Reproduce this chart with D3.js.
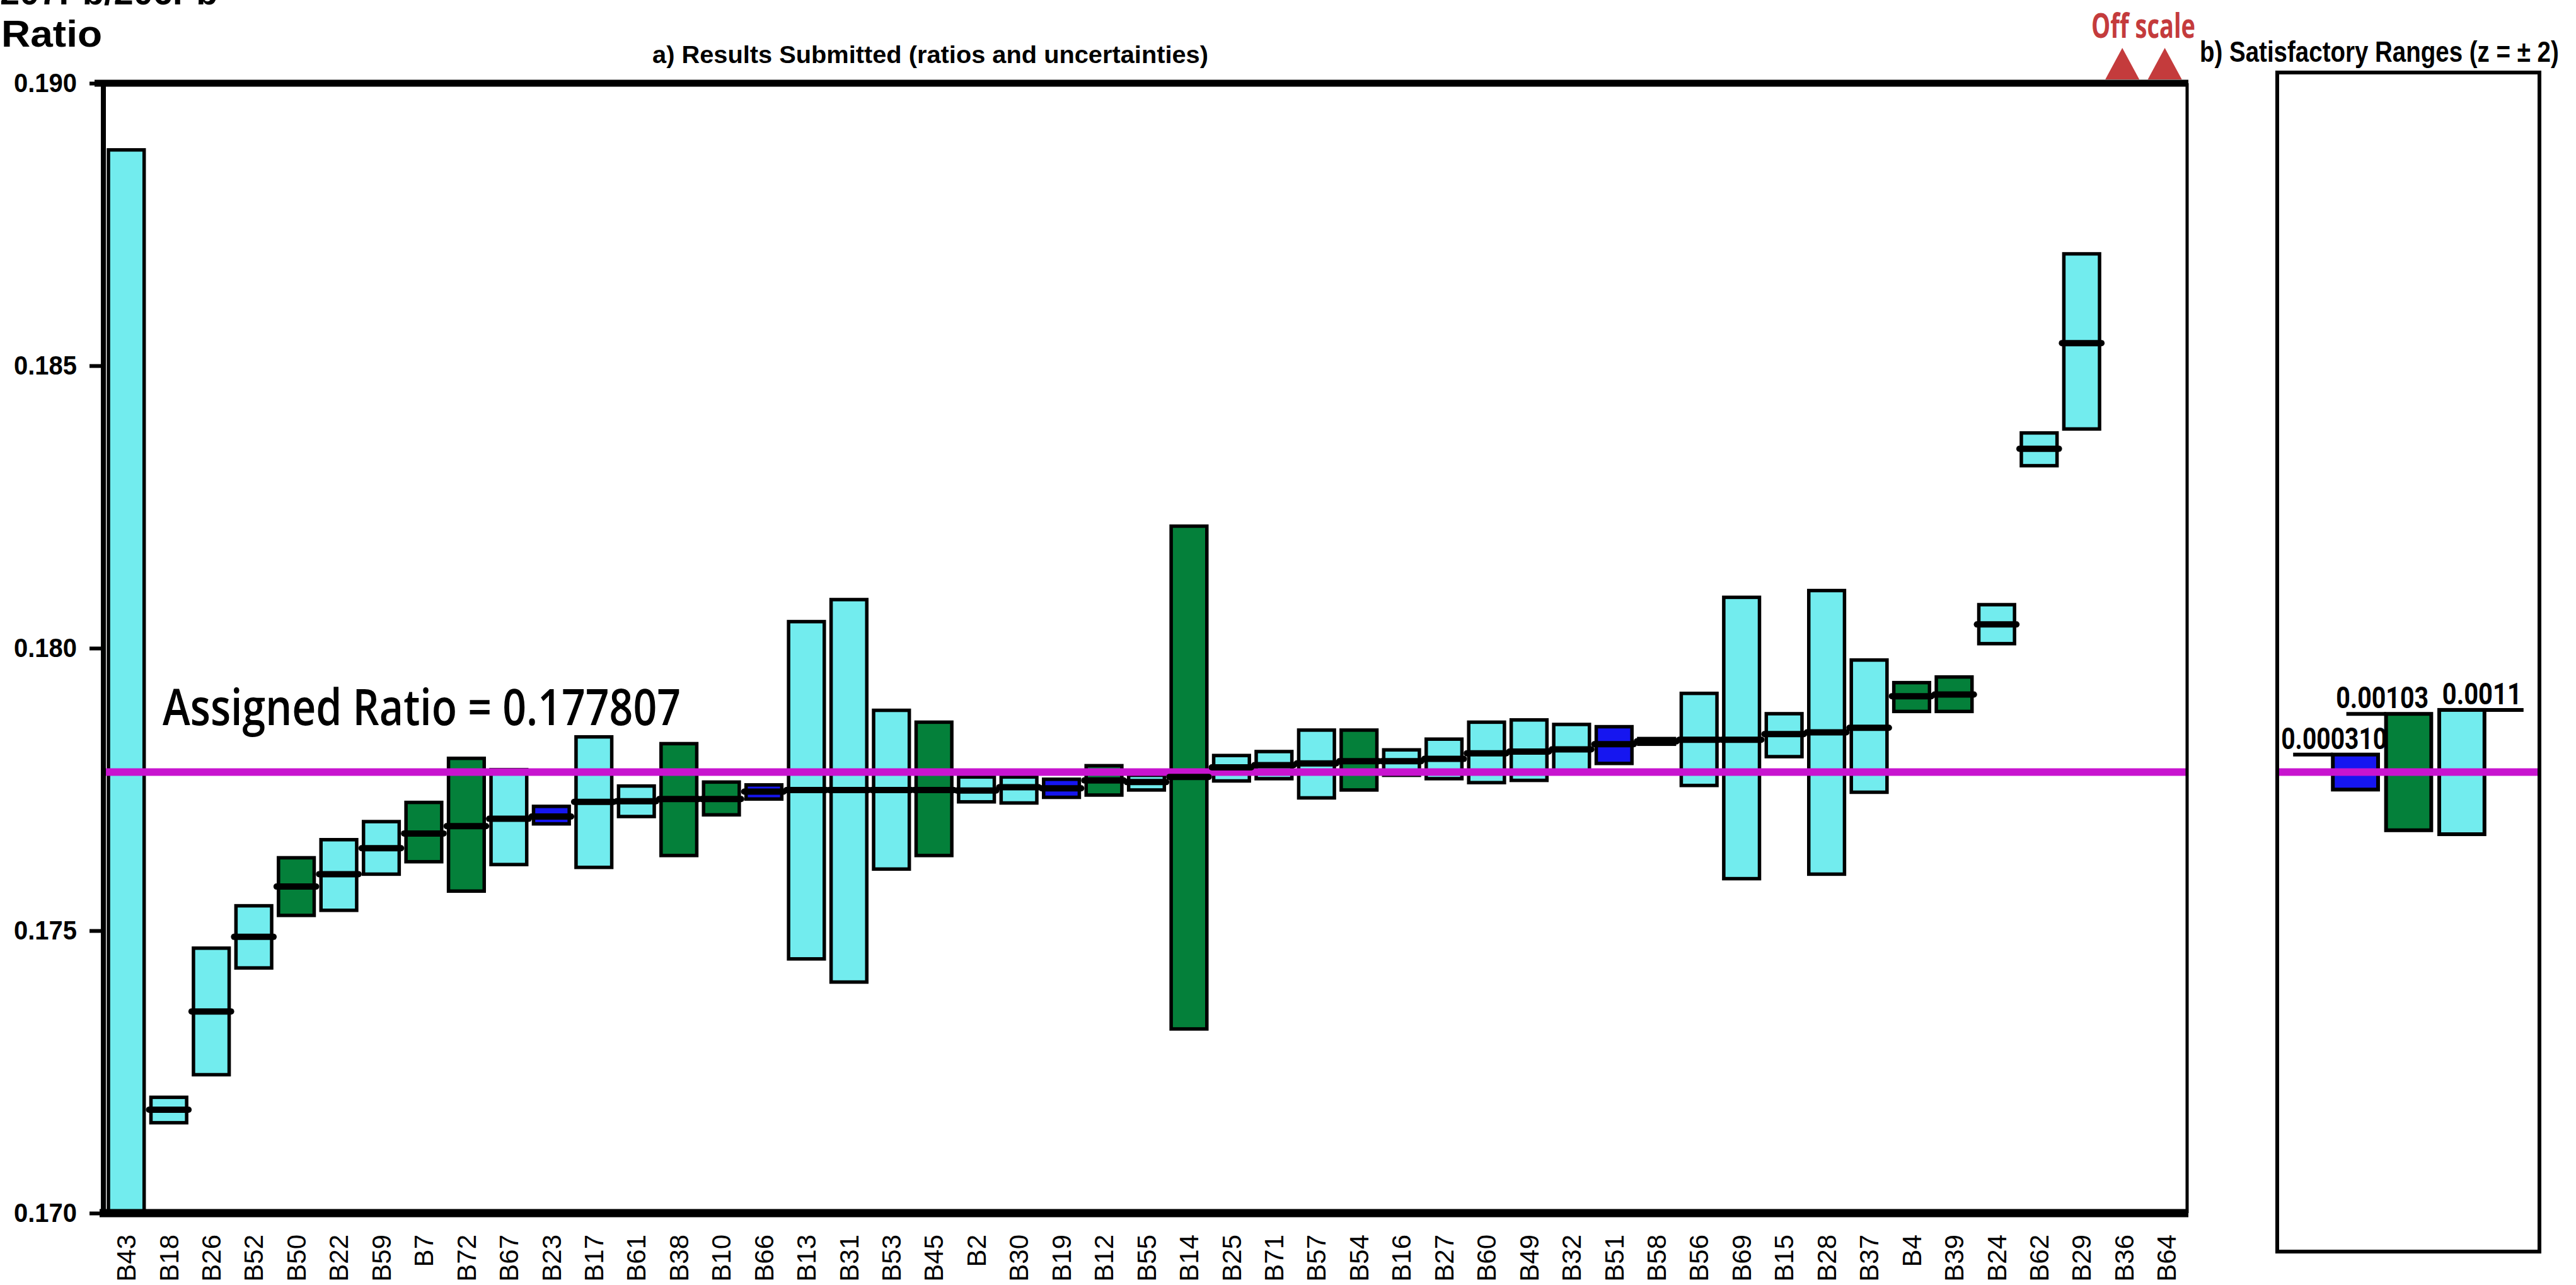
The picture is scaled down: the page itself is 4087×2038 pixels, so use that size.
<!DOCTYPE html>
<html><head><meta charset="utf-8">
<script src="https://cdn.jsdelivr.net/npm/d3@7"></script>
<style>html,body{margin:0;padding:0;background:#fff;} svg{display:block;}</style>
</head><body>
<svg id="chart" width="4087" height="2038"></svg>
<script>
// ---------- data ----------
const labs = ["B43","B18","B26","B52","B50","B22","B59","B7","B72","B67","B23","B17","B61","B38","B10","B66","B13","B31","B53","B45","B2","B30","B19","B12","B55","B14","B25","B71","B57","B54","B16","B27","B60","B49","B32","B51","B58","B56","B69","B15","B28","B37","B4","B39","B24","B62","B29","B36","B64"];
const groups = ["c","c","c","c","g","c","c","g","g","c","b","c","c","g","g","b","c","c","c","g","c","c","b","g","c","g","c","c","c","g","c","c","c","c","c","b","c","c","c","c","c","c","g","g","c","c","c","c","c"];
const centers = [0.1690,0.17183,0.17357,0.17489,0.17578,0.17600,0.17646,0.17672,0.17685,0.17698,0.17702,0.17728,0.17729,0.17733,0.17733,0.17746,0.17749,0.17749,0.17749,0.17749,0.17748,0.17754,0.17752,0.17766,0.17763,0.17772,0.17789,0.17793,0.17796,0.17800,0.17800,0.17804,0.17814,0.17817,0.17821,0.17830,0.17835,0.17838,0.17838,0.17848,0.17851,0.17859,0.17915,0.17918,0.18042,0.18353,0.18540,0.1925,0.1935];
const lows = [0.1492,0.17160,0.17245,0.17434,0.17527,0.17536,0.17600,0.17622,0.17570,0.17617,0.17689,0.17612,0.17702,0.17633,0.17705,0.17733,0.17450,0.17409,0.17609,0.17633,0.17728,0.17726,0.17736,0.17740,0.17749,0.17326,0.17765,0.17769,0.17735,0.17749,0.17775,0.17769,0.17762,0.17766,0.17781,0.17796,0.17830,0.17757,0.17592,0.17808,0.17600,0.17745,0.17888,0.17888,0.18008,0.18323,0.18388,0.1920,0.1930];
const highs = [0.18882,0.17205,0.17469,0.17544,0.17629,0.17661,0.17693,0.17727,0.17805,0.17785,0.17720,0.17843,0.17756,0.17831,0.17763,0.17758,0.18047,0.18086,0.17890,0.17869,0.17772,0.17772,0.17768,0.17792,0.17775,0.18216,0.17810,0.17817,0.17855,0.17855,0.17820,0.17839,0.17869,0.17873,0.17865,0.17861,0.17840,0.17920,0.18090,0.17884,0.18102,0.17979,0.17939,0.17949,0.18077,0.18381,0.18698,0.1930,0.1940];
const assigned = 0.177807;
const yTicks = [0.170,0.175,0.180,0.185,0.190];
const rangeNames = ["b","g","c"];
const rangeHalf = [0.000310,0.00103,0.0011];
const rangeLabels = ["0.000310","0.00103","0.0011"];
const rangeSide = ["left","left","right"];
const colorOf = {c:"#72ECEE", g:"#04803A", b:"#1616F0"};

// ---------- layout ----------
const W=4087,H=2038;
const svg=d3.select("#chart");
svg.append("rect").attr("width",W).attr("height",H).attr("fill","#fff");
const pa={l:164,r:3470,t:132,b:1924};
const pb={l:3613,r:4029,t:115,b:1985};
const FONT="'Liberation Sans', Arial, sans-serif";

const y=d3.scaleLinear().domain([0.170,0.190]).range([pa.b,pa.t]);
const x=d3.scaleBand().domain(labs).range([pa.l+4,pa.r]).paddingInner(0.16).paddingOuter(0.06);
const bw=x.bandwidth();

const defs=svg.append("defs");
defs.append("clipPath").attr("id","clipA").append("rect")
  .attr("x",pa.l).attr("y",pa.t).attr("width",pa.r-pa.l).attr("height",pa.b-pa.t);

const data=labs.map((l,i)=>({l,g:groups[i],c:centers[i],lo:lows[i],hi:highs[i]}));

// boxes
const gBars=svg.append("g").attr("clip-path","url(#clipA)");
gBars.selectAll("rect.box").data(data).join("rect").attr("class","box")
  .attr("x",d=>x(d.l)).attr("width",bw)
  .attr("y",d=>y(d.hi)).attr("height",d=>Math.max(2,y(d.lo)-y(d.hi)))
  .attr("fill",d=>colorOf[d.g]).attr("stroke","#000").attr("stroke-width",5.5);

// assigned line (panel a)
svg.append("line").attr("x1",pa.l+4).attr("x2",pa.r-2).attr("y1",y(assigned)).attr("y2",y(assigned))
  .attr("stroke","#C814CF").attr("stroke-width",12);

// center lines
const gC=svg.append("g").attr("clip-path","url(#clipA)");
gC.selectAll("line").data(data).join("line")
  .attr("x1",d=>x(d.l)-3).attr("x2",d=>x(d.l)+bw+3)
  .attr("y1",d=>y(d.c)).attr("y2",d=>y(d.c))
  .attr("stroke","#000").attr("stroke-width",10).attr("stroke-linecap","round");

// frame of panel a
const fr=svg.append("g").attr("stroke","#000");
fr.append("line").attr("x1",pa.l).attr("x2",pa.l).attr("y1",pa.t-4).attr("y2",pa.b+6).attr("stroke-width",8);
fr.append("line").attr("x1",150).attr("x2",pa.r+2).attr("y1",pa.t).attr("y2",pa.t).attr("stroke-width",11);
fr.append("line").attr("x1",158).attr("x2",pa.r+2).attr("y1",pa.b).attr("y2",pa.b).attr("stroke-width",13);
fr.append("line").attr("x1",pa.r).attr("x2",pa.r).attr("y1",pa.t).attr("y2",pa.b).attr("stroke-width",5);

// y axis
const gy=svg.append("g").attr("transform",`translate(${pa.l},0)`)
  .call(d3.axisLeft(y).tickValues(yTicks).tickFormat(d3.format(".3f")).tickSize(22).tickPadding(20));
gy.select(".domain").remove();
gy.selectAll(".tick line").attr("stroke","#000").attr("stroke-width",6);
gy.selectAll(".tick text").attr("font-family",FONT).attr("font-weight","bold").attr("font-size",42).attr("fill","#000")
  .attr("textLength",100).attr("lengthAdjust","spacingAndGlyphs");

// x axis labels
const gx=svg.append("g").attr("transform",`translate(0,${pa.b})`).call(d3.axisBottom(x).tickSize(0));
gx.select(".domain").remove();
gx.selectAll(".tick text").attr("transform","rotate(-90)").attr("text-anchor","end")
  .attr("x",-34).attr("y",0).attr("dy","0.35em")
  .attr("font-family",FONT).attr("font-size",42).attr("fill","#000");

// off scale markers
const off=data.filter(d=>d.c>0.190);
svg.selectAll("path.tri").data(off).join("path").attr("class","tri")
  .attr("d",d=>{const cx=x(d.l)+bw/2-3;return `M${cx-27},126 L${cx+27},126 L${cx},76 Z`;})
  .attr("fill","#C43B3C");
svg.append("text").attr("x",3318).attr("y",60).text("Off scale")
  .attr("font-family","'Open Sans', sans-serif").attr("font-weight",700).attr("font-size",54)
  .attr("fill","#C43B3C").attr("textLength",165).attr("lengthAdjust","spacingAndGlyphs");

// titles
svg.append("text").attr("x",1035).attr("y",100).text("a) Results Submitted (ratios and uncertainties)")
  .attr("font-family",FONT).attr("font-weight","bold").attr("font-size",38)
  .attr("textLength",882).attr("lengthAdjust","spacingAndGlyphs");
svg.append("text").attr("transform","translate(3490,98) scale(1,1.18)").attr("x",0).attr("y",0)
  .text("b) Satisfactory Ranges (z = ± 2)")
  .attr("font-family",FONT).attr("font-weight","bold").attr("font-size",38.5);
svg.append("text").attr("x",2).attr("y",74).text("Ratio")
  .attr("font-family",FONT).attr("font-weight","bold").attr("font-size",60)
  .attr("textLength",160).attr("lengthAdjust","spacingAndGlyphs");
svg.append("text").attr("x",0).attr("y",7).text("207Pb/206Pb")
  .attr("font-family",FONT).attr("font-weight","bold").attr("font-size",56);

// assigned ratio label
svg.append("text").attr("x",258).attr("y",1150).text("Assigned Ratio = 0.177807")
  .attr("font-family","'Open Sans', sans-serif").attr("font-weight",600).attr("font-size",80)
  .attr("textLength",822).attr("lengthAdjust","spacingAndGlyphs").attr("fill","#000");

// ---------- panel b ----------
const xb=d3.scaleBand().domain(rangeNames).range([3697,3946]).paddingInner(0.15).paddingOuter(0.05);
const bwb=xb.bandwidth();
const rdata=rangeNames.map((n,i)=>({n,h:rangeHalf[i],lab:rangeLabels[i],side:rangeSide[i]}));
svg.append("g").selectAll("rect").data(rdata).join("rect")
  .attr("x",d=>xb(d.n)).attr("width",bwb)
  .attr("y",d=>y(assigned+d.h)).attr("height",d=>y(assigned-d.h)-y(assigned+d.h))
  .attr("fill",d=>colorOf[d.n]).attr("stroke","#000").attr("stroke-width",6);
svg.append("line").attr("x1",pb.l+3).attr("x2",pb.r-3).attr("y1",y(assigned)).attr("y2",y(assigned))
  .attr("stroke","#C814CF").attr("stroke-width",12);
// underlines & labels
svg.append("g").selectAll("line").data(rdata).join("line")
  .attr("x1",d=>d.side==="left"?xb(d.n)-63:xb(d.n)+bwb)
  .attr("x2",d=>d.side==="left"?xb(d.n):xb(d.n)+bwb+62)
  .attr("y1",d=>y(assigned+d.h)).attr("y2",d=>y(assigned+d.h))
  .attr("stroke","#000").attr("stroke-width",6);
svg.append("g").selectAll("text").data(rdata).join("text")
  .attr("x",d=>d.side==="left"?xb(d.n)+(d.n==="b"?2:-6):xb(d.n)+bwb-4)
  .attr("y",d=>y(assigned+d.h)-9)
  .attr("text-anchor","middle").text(d=>d.lab)
  .attr("font-family","Roboto, sans-serif").attr("font-weight",700).attr("font-size",48)
  .attr("textLength",d=>d.lab.length*21).attr("lengthAdjust","spacingAndGlyphs");
// frame b
svg.append("rect").attr("x",pb.l).attr("y",pb.t).attr("width",pb.r-pb.l).attr("height",pb.b-pb.t)
  .attr("fill","none").attr("stroke","#000").attr("stroke-width",6);
</script>
</body></html>
